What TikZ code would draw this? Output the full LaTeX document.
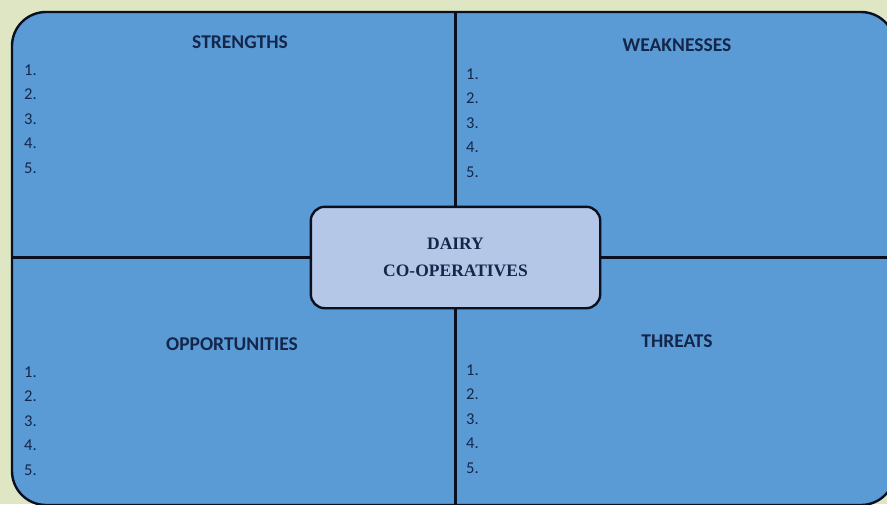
\documentclass[tikz,border=0pt]{standalone}
\usepackage{fontspec}
\setmainfont{Liberation Serif}
\newfontfamily\swotsans{Carlito}
\definecolor{swotbg}{HTML}{DEE6C3}
\definecolor{swotblue}{HTML}{5B9BD5}
\definecolor{corefill}{HTML}{B4C7E7}
\definecolor{swotink}{HTML}{14264A}
\definecolor{swotline}{HTML}{0A1020}

\begin{document}
\begin{tikzpicture}[x=1pt,y=-1pt,
    heading/.style={font=\swotsans\bfseries\fontsize{19.5}{22}\selectfont,text=swotink,inner sep=0pt},
    item/.style={font=\swotsans\fontsize{16.5}{18}\selectfont,text=swotink,anchor=west,inner sep=0pt},
    divider/.style={draw=swotline,line width=2.4pt}]
  \useasboundingbox (0,0) rectangle (887,504);
  \fill[swotbg] (0,0) rectangle (887,504);
  \clip (0,0) rectangle (887,504);
  \node[draw=swotline,fill=swotblue,line width=2.4pt,rounded corners=34pt,
        minimum width=883pt,minimum height=493pt,inner sep=0pt] (frame) at (453.5,258.5) {};
  \node[fill=corefill,rounded corners=14pt,minimum width=289pt,minimum height=101pt,
        align=center,font=\bfseries\fontsize{17.5}{27}\selectfont,text=swotink] (core) at (455.5,257.5) {DAIRY\\CO-OPERATIVES};
  \draw[divider] (frame.north -| core.north) -- (core.north);
  \draw[divider] (core.south) -- (frame.south -| core.south);
  \draw[divider] (frame.west |- core.west) -- (core.west);
  \draw[divider] (core.east) -- (frame.east |- core.east);
  \draw[divider,rounded corners=14pt] (core.north west) rectangle (core.south east);
  \node[heading] (strengths) at (240,42) {STRENGTHS};
  \node[heading] (weaknesses) at (677,45) {WEAKNESSES};
  \node[heading] (opportunities) at (232,344) {OPPORTUNITIES};
  \node[heading] (threats) at (677,341) {THREATS};
  \foreach \qx/\qy/\q in {24/70/s,466/74/w,24/372/o,466/370/t}
    \foreach \n in {1,...,5}
      \node[item] (\q\n) at (\qx,{\qy+24.5*(\n-1)}) {\n.};
\end{tikzpicture}
\end{document}
